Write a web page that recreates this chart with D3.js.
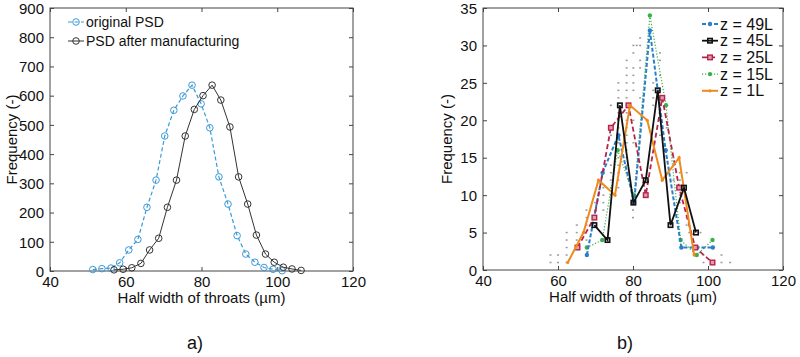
<!DOCTYPE html>
<html><head><meta charset="utf-8">
<script src="https://cdn.jsdelivr.net/npm/d3@7/dist/d3.min.js"></script>
<style>body{margin:0;background:#fff}svg{display:block}text{font-family:"Liberation Sans",Arial,sans-serif;fill:#111}</style>
</head><body><svg id="c" width="800" height="357"></svg>
<script>
// ---------- data: panel a ----------
const origX = [51.3,53.7,56.1,58.4,60.8,63.2,65.6,68.0,70.3,72.7,75.1,77.5,79.9,82.2,84.6,87.0,89.4,91.7,94.1,96.5,98.9,101.3];
const origY = [5,8,10,28,72,108,218,311,462,550,599,636,572,490,322,229,121,58,30,12,6,1];
const mfgX = [56.9,59.3,61.6,64.0,66.3,68.7,71.0,73.4,75.7,78.1,80.4,82.8,85.1,87.5,89.8,92.2,94.5,96.9,99.2,101.6,103.9,106.3];
const mfgY = [4,6,11,26,72,112,218,311,462,553,600,636,585,493,322,229,123,58,30,13,7,2];
const seriesA = ["original PSD","PSD after manufacturing"];
const xTicks = [40,60,80,100,120];
const yTicksA = [0,100,200,300,400,500,600,700,800,900];
// ---------- data: panel b ----------
const z49X = [67.7,71.9,76.1,80.3,84.5,88.7,92.9,97.1,101.3];
const z49Y = [2,13,18,9,32,16,3,3,3];
const z45X = [69.7,73.2,76.5,80.1,83.4,86.6,90.0,93.6,96.8];
const z45Y = [6,4,22,9,12,24,6,11,5];
const z25X = [65.2,69.7,74.1,78.8,83.4,87.8,92.3,96.6,101.2];
const z25Y = [3,7,19,22,10,23,11,3,1];
const z15X = [67.7,71.8,75.9,80.3,84.5,88.8,92.7,97.0,101.2];
const z15Y = [3,4,16,10,34,22,4,2,4];
const z1X = [62.6,66.8,70.8,75.2,79.2,83.8,87.8,92.3,96.3];
const z1Y = [1,5,12,10,22,20,12,15,2];
const seriesB = ["z = 49L","z = 45L","z = 25L","z = 15L","z = 1L"];
const yTicksB = [0,5,10,15,20,25,30,35];
// background gray points of other layers: frequency row -> x positions
const bgRows = [
 [1,[58,60,62.3,98.8,101.4,103.6,105.9]],
 [2,[58,60,62.3,96.5,98.8,103.6]],
 [3,[62.3,65,96.5,99]],
 [4,[62.3,65,67.6,96]],
 [5,[62.3,65,95,98]],
 [6,[65,67.6,94.3]],
 [7,[67.6,69.9,80,94.3]],
 [8,[67.6,69.9,72.1,80,94.3]],
 [9,[69.9,72.1,74.1,92.5,94.3]],
 [10,[72.1,74.1,92.5]],
 [11,[72.1,74.1,76.1,92.5]],
 [12,[74.1,76.1,90.8,92.5]],
 [13,[74.1,76.1,92.5,94.3]],
 [14,[74.1,76.1,78.3,90.8]],
 [15,[76.1,78.3,89,90.8]],
 [16,[76.1,78.3,89]],
 [17,[76.1,78.3,80.1]],
 [18,[74.1,76.1,78.3,87.2]],
 [19,[76.1,78.3,89]],
 [20,[76.1,78.3,80.1,87.2]],
 [21,[76.1,78.3,87.2]],
 [22,[74.1,76.1,78.3,85.4,87.2]],
 [23,[76.1,78.3,81.9,85.4]],
 [24,[76.1,78.3,80.1,85.4,87.2]],
 [25,[76.1,78.3,80.1,85.4]],
 [26,[78.3,80.1,87.2]],
 [27,[78.3,80.1,81.9]],
 [28,[78.3,81.9,87.2]],
 [29,[80.1,87.2]],
 [30,[80.1,81,81.9]],
 [31,[81.9]]
];

const svg = d3.select("#c");
const FS = 15;

function frame(g, x, y, xt, yt, yTitleX) {
  const [x0,x1] = x.range(), [y0,y1] = y.range();
  const tl = 4;
  g.append("rect").attr("x",x0).attr("y",y1).attr("width",x1-x0).attr("height",y0-y1)
    .attr("fill","none").attr("stroke","#444").attr("stroke-width",1);
  const gx = g.append("g").attr("transform",`translate(0,${y0})`)
    .call(d3.axisBottom(x).tickValues(xt).tickSize(-tl).tickFormat(d3.format("d")).tickPadding(5));
  const gxt = g.append("g").attr("transform",`translate(0,${y1})`)
    .call(d3.axisTop(x).tickValues(xt).tickSize(-tl).tickFormat(""));
  const gy = g.append("g").attr("transform",`translate(${x0},0)`)
    .call(d3.axisLeft(y).tickValues(yt).tickSize(-tl).tickFormat(d3.format("d")).tickPadding(5));
  const gyr = g.append("g").attr("transform",`translate(${x1},0)`)
    .call(d3.axisRight(y).tickValues(yt).tickSize(-tl).tickFormat(""));
  [gx,gxt,gy,gyr].forEach(a=>{a.select(".domain").remove();a.selectAll("line").attr("stroke","#444");});
  gx.selectAll("text").attr("font-size",FS).attr("fill","#111").attr("dy","0.7em");
  gy.selectAll("text").attr("font-size",FS).attr("fill","#111").attr("dx","-1").attr("dy","0.35em");
  g.append("text").attr("x",(x0+x1)/2).attr("y",y0+32).attr("text-anchor","middle").attr("font-size",FS)
    .text("Half width of throats (µm)");
  g.append("text").attr("transform",`translate(${yTitleX},${(y0+y1)/2}) rotate(-90)`).attr("text-anchor","middle")
    .attr("font-size",FS).text("Frequency (-)");
}

// ---------- panel a ----------
const gA = svg.append("g");
const xA = d3.scaleLinear().domain([40,120]).range([50,353]);
const yA = d3.scaleLinear().domain([0,900]).range([271,8]);
frame(gA, xA, yA, xTicks, yTicksA, 17);
const lineA = d3.line().x(d=>xA(d[0])).y(d=>yA(d[1]));
const dA = [
  {name:seriesA[0], pts:origX.map((v,i)=>[v,origY[i]]), color:"#3a9ad9", dash:"4,2.5", w:1.2},
  {name:seriesA[1], pts:mfgX.map((v,i)=>[v,mfgY[i]]), color:"#333", dash:null, w:1}
];
dA.forEach((s,i)=>{
  gA.append("path").attr("d",lineA(s.pts)).attr("fill","none").attr("stroke",s.color)
    .attr("stroke-width",s.w).attr("stroke-dasharray",s.dash);
  gA.selectAll(null).data(s.pts).join("circle").attr("cx",d=>xA(d[0])).attr("cy",d=>yA(d[1]))
    .attr("r",3.3).attr("fill","none").attr("stroke",s.color).attr("stroke-width",1);
  const ly = 22 + i*19;
  gA.append("line").attr("x1",68).attr("x2",84).attr("y1",ly).attr("y2",ly).attr("stroke",s.color)
    .attr("stroke-width",s.w).attr("stroke-dasharray",s.dash);
  gA.append("circle").attr("cx",76).attr("cy",ly).attr("r",3.3).attr("fill","none").attr("stroke",s.color);
  gA.append("text").attr("x",86).attr("y",ly).attr("dy","0.35em").attr("font-size",14).text(s.name);
});

// ---------- panel b ----------
const gB = svg.append("g");
const xB = d3.scaleLinear().domain([40,120]).range([483,783]);
const yB = d3.scaleLinear().domain([0,35]).range([270,8]);
frame(gB, xB, yB, xTicks, yTicksB, 452);
const bg = bgRows.flatMap(r=>r[1].map(x=>[x,r[0]]));
gB.selectAll(null).data(bg).join("rect").attr("x",d=>xB(d[0])-1).attr("y",d=>yB(d[1])-0.75)
  .attr("width",2).attr("height",1.5).attr("fill","#9a9a9a");
const lineB = d3.line().x(d=>xB(d[0])).y(d=>yB(d[1]));
const dB = [
  {name:seriesB[0], xs:z49X, ys:z49Y, color:"#2a7fc9", dash:"4,2", w:2, m:"dot"},
  {name:seriesB[1], xs:z45X, ys:z45Y, color:"#111", dash:null, w:1.8, m:"sq"},
  {name:seriesB[2], xs:z25X, ys:z25Y, color:"#b8234a", dash:"5,3", w:1.8, m:"osq"},
  {name:seriesB[3], xs:z15X, ys:z15Y, color:"#3bb04a", dash:"1.2,1.8", w:1.2, m:"dot"},
  {name:seriesB[4], xs:z1X, ys:z1Y, color:"#f08a1c", dash:null, w:2, m:"small"}
];
const order = [3,0,2,4,1];
function marker(g, s, x, y) {
  if (s.m==="dot") g.append("circle").attr("cx",x).attr("cy",y).attr("r",2.2).attr("fill",s.color);
  else if (s.m==="sq") g.append("rect").attr("x",x-2.2).attr("y",y-2.2).attr("width",4.4).attr("height",4.4)
      .attr("fill","none").attr("stroke",s.color).attr("stroke-width",1.6);
  else if (s.m==="osq") g.append("rect").attr("x",x-2.3).attr("y",y-2.3).attr("width",4.6).attr("height",4.6)
      .attr("fill","#d9a0b0").attr("stroke",s.color).attr("stroke-width",1.4);
  else g.append("circle").attr("cx",x).attr("cy",y).attr("r",1.6).attr("fill",s.color);
}
order.forEach(k=>{
  const s = dB[k];
  const pts = s.xs.map((v,i)=>[v,s.ys[i]]);
  gB.append("path").attr("d",lineB(pts)).attr("fill","none").attr("stroke",s.color)
    .attr("stroke-width",s.w).attr("stroke-dasharray",s.dash);
  pts.forEach(p=>marker(gB,s,xB(p[0]),yB(p[1])));
});
dB.forEach((s,i)=>{
  const ly = 24 + i*16.7;
  gB.append("line").attr("x1",702).attr("x2",718).attr("y1",ly).attr("y2",ly).attr("stroke",s.color)
    .attr("stroke-width",s.w).attr("stroke-dasharray",s.dash);
  marker(gB,s,710,ly);
  gB.append("text").attr("x",720).attr("y",ly).attr("dy","0.35em").attr("font-size",16).text(s.name);
});

// panel captions
svg.append("text").attr("x",195).attr("y",349).attr("text-anchor","middle").attr("font-size",18)
  .attr("font-family","'Open Sans',sans-serif").text("a)");
svg.append("text").attr("x",625).attr("y",349).attr("text-anchor","middle").attr("font-size",18)
  .attr("font-family","'Open Sans',sans-serif").text("b)");
</script></body></html>
